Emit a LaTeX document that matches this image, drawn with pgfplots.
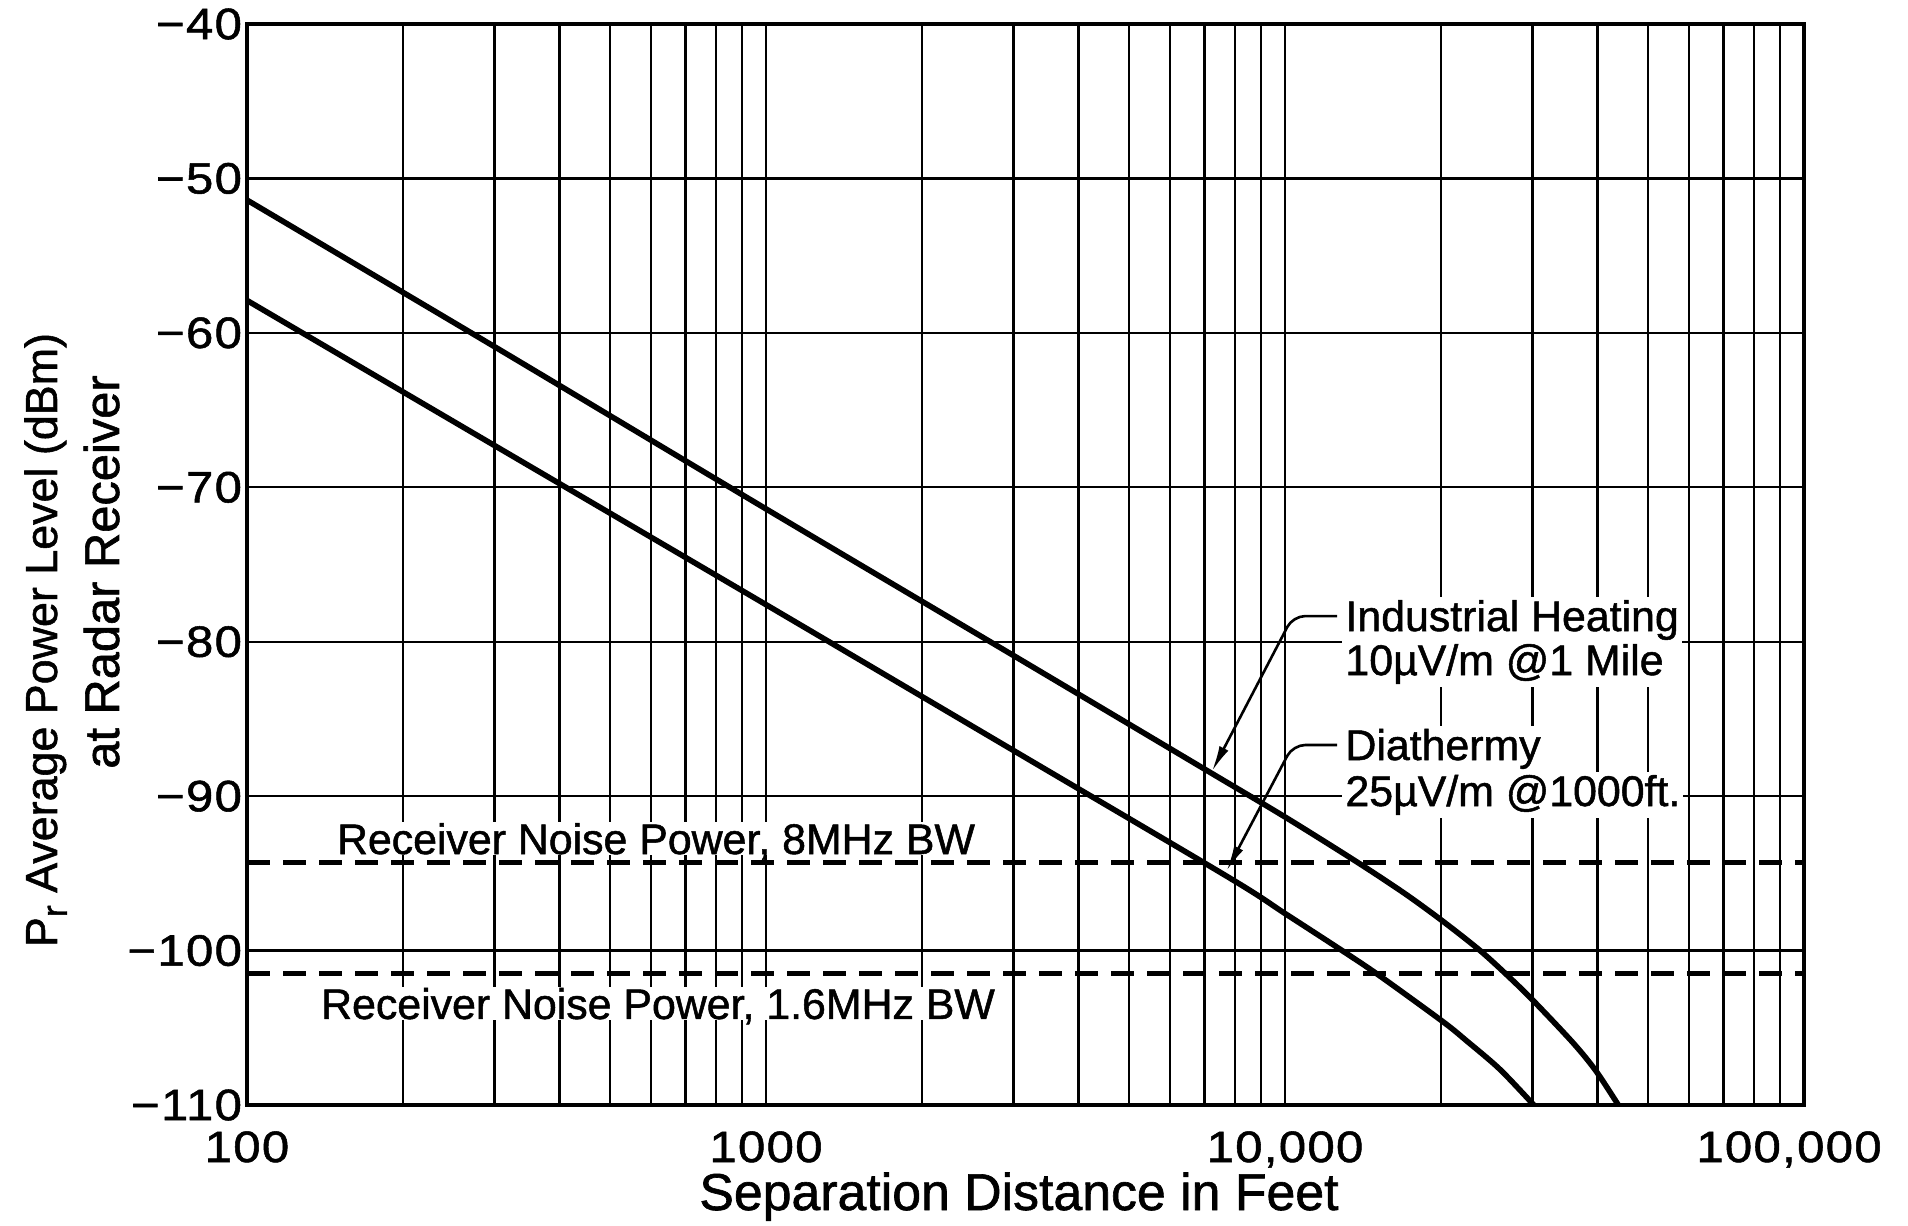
\documentclass[border=0pt]{standalone}
\usepackage{fontspec}
\setmainfont{Liberation Sans}[FakeBold=1.2]
\newfontfamily\tickfont{Liberation Sans}[FakeBold=1.2, FakeStretch=1.12, LetterSpace=3]
\usepackage{pgfplots}
\pgfplotsset{compat=1.18}
\usetikzlibrary{arrows.meta}

% received interference power versus separation distance
\pgfplotstableread{
d      p
100    -51.4
300    -60.9
1000   -71.4
3000   -80.9
7000   -88.25
10000  -91.35
13740  -94.25
17000  -96.3
20140  -98.1
23760  -100.0
27000  -101.7
30200  -103.3
35950  -106.0
39740  -107.8
43870  -110.0
}\heating
\pgfplotstableread{
d      p
100    -57.9
300    -67.3
1000   -77.6
3000   -87.05
7780   -95.25
10000  -97.6
12950  -100.05
15240  -101.65
20140  -104.6
22390  -105.85
25960  -107.7
30150  -110.0
}\diathermy

\newcommand\lblfont{\fontsize{21.5}{24}\selectfont}
\newcommand\axfont{\fontsize{26}{30}\selectfont}

\begin{document}
\begin{tikzpicture}
\path[use as bounding box] (-123.5bp,-60.5bp) rectangle (830.5bp,552.5bp);
\begin{axis}[
  at={(0,0)}, anchor=south west,
  scale only axis, width=778.5bp, height=540.5bp,
  xmode=log, xmin=100, xmax=100000, ymin=-110, ymax=-40,
  xtick={100,1000,10000,100000},
  xticklabels={100,1000,{10,000},{100,000\hspace*{15bp}}},
  ytick={-110,-100,...,-40},
  yticklabels={−110,−100,−90,−80,−70,−60,−50,−40},
  grid=both,
  major grid style={black, line width=1.2bp},
  minor grid style={black, line width=1.2bp},
  major tick length=0pt, minor tick length=0pt,
  axis line style={line width=2bp},
  tick label style={font=\tickfont\fontsize{22}{22}\selectfont},
  xticklabel style={anchor=base, yshift=-28.5bp},
  yticklabel style={xshift=1bp},
  clip=false,
]
\addplot[black, line width=2.8bp, smooth] table[x=d, y=p] {\heating};
\addplot[black, line width=2.8bp, smooth] table[x=d, y=p] {\diathermy};

\node[anchor=base west, fill=white, inner xsep=1bp, inner ysep=0.5bp, text depth=0pt, font=\lblfont] at (147.5,-93.75) {Receiver Noise Power, 8MHz BW};
\node[anchor=base west, fill=white, inner xsep=1bp, inner ysep=0.5bp, text depth=0pt, font=\lblfont] at (137.5,-104.43) {Receiver Noise Power, 1.6MHz BW};

% receiver noise floors
\addplot[black, line width=2.5bp, dash pattern=on 11.5bp off 6.5bp] coordinates {(100,-94.3) (100000,-94.3)};
\addplot[black, line width=2.5bp, dash pattern=on 11.5bp off 6.5bp] coordinates {(100,-101.5) (100000,-101.5)};

% source annotations
\node[anchor=base west, fill=white, inner sep=1.5bp, font=\lblfont] at (12880,-79.31) {Industrial Heating};
\node[anchor=base west, fill=white, inner sep=1.5bp, font=\lblfont] at (12880,-82.16) {10µV/m @1 Mile};
\node[anchor=base west, fill=white, inner sep=1.5bp, font=\lblfont] at (12880,-87.66) {Diathermy};
\node[anchor=base west, fill=white, inner sep=1.5bp, font=\lblfont] at (12880,-90.64) {25µV/m @1000ft.};

\draw[black, line width=1.3bp, rounded corners=6bp, -{Latex[length=13bp,width=5bp]}]
  (12600,-78.34) -- (10360,-78.34) -- (7230,-88.4);
\draw[black, line width=1.3bp, rounded corners=6bp, -{Latex[length=13bp,width=5bp]}]
  (12600,-86.69) -- (10360,-86.69) -- (7715,-94.85);
\end{axis}

\node[rotate=90, anchor=base, font=\fontsize{22.5}{27}\selectfont] at (-95bp,232.5bp)
  {P\raisebox{-0.42ex}{\fontsize{18}{18}\selectfont r} Average Power Level (dBm)};
\node[rotate=90, anchor=base, font=\fontsize{24.5}{28}\selectfont] at (-64bp,266.5bp) {at Radar Receiver};
\node[anchor=base, font=\axfont] at (386bp,-52.5bp) {Separation Distance in Feet};
\end{tikzpicture}
\end{document}
